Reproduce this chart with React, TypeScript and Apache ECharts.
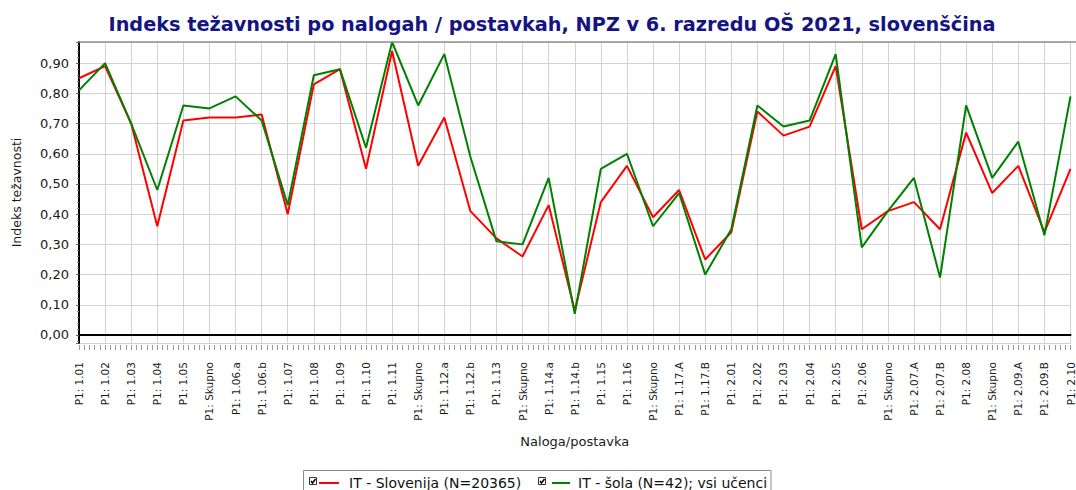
import React, { useEffect, useRef } from "react";
import * as echarts from "echarts";

const TITLE = "Indeks težavnosti po nalogah / postavkah, NPZ v 6. razredu OŠ 2021, slovenščina";
const Y_NAME = "Indeks težavnosti";
const X_NAME = "Naloga/postavka";
const SERIES_NAMES = ["IT - Slovenija (N=20365)", "IT - šola (N=42); vsi učenci"];

const categories = [
  "P1: 1.01", "P1: 1.02", "P1: 1.03", "P1: 1.04", "P1: 1.05", "P1: Skupno",
  "P1: 1.06.a", "P1: 1.06.b", "P1: 1.07", "P1: 1.08", "P1: 1.09", "P1: 1.10",
  "P1: 1.11", "P1: Skupno", "P1: 1.12.a", "P1: 1.12.b", "P1: 1.13", "P1: Skupno",
  "P1: 1.14.a", "P1: 1.14.b", "P1: 1.15", "P1: 1.16", "P1: Skupno", "P1: 1.17.A",
  "P1: 1.17.B", "P1: 2.01", "P1: 2.02", "P1: 2.03", "P1: 2.04", "P1: 2.05",
  "P1: 2.06", "P1: Skupno", "P1: 2.07.A", "P1: 2.07.B", "P1: 2.08", "P1: Skupno",
  "P1: 2.09.A", "P1: 2.09.B", "P1: 2.10",
];

const slovenija = [
  0.85, 0.89, 0.70, 0.36, 0.71, 0.72, 0.72, 0.73, 0.40, 0.83, 0.88, 0.55,
  0.94, 0.56, 0.72, 0.41, 0.32, 0.26, 0.43, 0.08, 0.44, 0.56, 0.39, 0.48,
  0.25, 0.34, 0.74, 0.66, 0.69, 0.89, 0.35, 0.41, 0.44, 0.35, 0.67, 0.47,
  0.56, 0.34, 0.55,
];

const sola = [
  0.81, 0.90, 0.70, 0.48, 0.76, 0.75, 0.79, 0.71, 0.43, 0.86, 0.88, 0.62,
  0.97, 0.76, 0.93, 0.59, 0.31, 0.30, 0.52, 0.07, 0.55, 0.60, 0.36, 0.47,
  0.20, 0.35, 0.76, 0.69, 0.71, 0.93, 0.29, 0.41, 0.52, 0.19, 0.76, 0.52,
  0.64, 0.33, 0.79,
];

const Y_MIN = -0.0265;
const Y_MAX = 0.97;

const FONT = "DejaVu Sans";
const TEXT_COLOR = "#1a1a1a";

export default function App() {
  const ref = useRef<HTMLDivElement>(null);

  useEffect(() => {
    if (!ref.current) return;
    const chart = echarts.init(ref.current, null, { renderer: "svg" });

    const checkbox = (x: number, y: number) => [
      {
        type: "rect",
        shape: { x, y, width: 7, height: 7 },
        style: { fill: "#fff", stroke: "#333", lineWidth: 1 },
      },
      {
        type: "polyline",
        shape: { points: [[x + 1.5, y + 3.5], [x + 3, y + 5.5], [x + 6, y + 1.5]] },
        style: { fill: "none", stroke: "#000", lineWidth: 1.5 },
      },
    ];

    const option: any = {
      animation: false,
      backgroundColor: "#fff",
      grid: { left: 79, right: 1, top: 42, bottom: 147, containLabel: false },
      xAxis: [
        {
          type: "category",
          data: categories,
          boundaryGap: false,
          name: X_NAME,
          nameLocation: "middle",
          nameGap: 92,
          nameTextStyle: { fontFamily: FONT, fontSize: 13, color: TEXT_COLOR },
          axisLine: { show: true, lineStyle: { color: "#000", width: 2 } },
          axisTick: { show: false },
          axisLabel: {
            interval: 0,
            rotate: 90,
            margin: 19,
            fontFamily: FONT,
            fontSize: 10.5,
            color: TEXT_COLOR,
          },
          splitLine: { show: true, lineStyle: { color: "#d2d2d2", width: 1 } },
        },
        {
          type: "value",
          position: "bottom",
          min: 0,
          max: categories.length - 1,
          interval: 1,
          offset: 2,
          axisLine: { show: false },
          axisLabel: { show: false },
          splitLine: { show: false },
          axisTick: { show: true, length: 5, lineStyle: { color: "#9a9a9a" } },
          minorTick: { show: true, splitNumber: 5, length: 5, lineStyle: { color: "#9a9a9a" } },
        },
      ],
      yAxis: {
        type: "value",
        min: Y_MIN,
        max: Y_MAX,
        splitNumber: 10,
        name: Y_NAME,
        nameLocation: "middle",
        nameGap: 56,
        nameTextStyle: { fontFamily: FONT, fontSize: 12.5, color: TEXT_COLOR },
        axisLine: { show: true, lineStyle: { color: "#000", width: 2 } },
        axisTick: { show: true, length: 3, lineStyle: { color: "#666" } },
        minorTick: { show: true, splitNumber: 5, length: 2, lineStyle: { color: "#888" } },
        axisLabel: {
          showMinLabel: false,
          showMaxLabel: false,
          margin: 10,
          fontFamily: FONT,
          fontSize: 13,
          color: TEXT_COLOR,
          formatter: (v: number) => v.toFixed(2).replace(".", ","),
        },
        splitLine: { show: true, lineStyle: { color: "#d2d2d2", width: 1 } },
      },
      series: [
        {
          name: SERIES_NAMES[0],
          type: "line",
          data: slovenija,
          xAxisIndex: 0,
          showSymbol: false,
          symbol: "none",
          lineStyle: { color: "#ff0000", width: 2 },
          itemStyle: { color: "#ff0000" },
          z: 2,
        },
        {
          name: SERIES_NAMES[1],
          type: "line",
          data: sola,
          xAxisIndex: 0,
          showSymbol: false,
          symbol: "none",
          lineStyle: { color: "#008000", width: 2 },
          itemStyle: { color: "#008000" },
          z: 3,
        },
      ],
      graphic: [
        {
          type: "text",
          x: 552,
          y: 24.5,
          style: {
            text: TITLE,
            textAlign: "center",
            textVerticalAlign: "middle",
            fontFamily: FONT,
            fontWeight: "bold",
            fontSize: 19.3,
            fill: "#141482",
          },
        },
        {
          type: "line",
          shape: { x1: 79, y1: 42, x2: 1076, y2: 42 },
          style: { stroke: "#8f8f8f", lineWidth: 1.5 },
          z: 10,
        },
        {
          type: "rect",
          shape: { x: 303.5, y: 470.5, width: 467.5, height: 40 },
          style: { fill: "#fff", stroke: "#8a8a8a", lineWidth: 1 },
        },
        ...checkbox(309.5, 477.5),
        {
          type: "line",
          shape: { x1: 319, y1: 483, x2: 339, y2: 483 },
          style: { stroke: "#ff0000", lineWidth: 2 },
        },
        {
          type: "text",
          x: 349,
          y: 483,
          style: {
            text: SERIES_NAMES[0],
            textVerticalAlign: "middle",
            fontFamily: FONT,
            fontSize: 14,
            fill: "#111",
          },
        },
        ...checkbox(538.5, 477.5),
        {
          type: "line",
          shape: { x1: 552, y1: 483, x2: 570, y2: 483 },
          style: { stroke: "#008000", lineWidth: 2 },
        },
        {
          type: "text",
          x: 578,
          y: 483,
          style: {
            text: SERIES_NAMES[1],
            textVerticalAlign: "middle",
            fontFamily: FONT,
            fontSize: 14,
            fill: "#111",
          },
        },
      ],
    };

    chart.setOption(option);
    return () => chart.dispose();
  }, []);

  return (
    <div
      ref={ref}
      style={{ position: "fixed", left: 0, top: 0, width: 1076, height: 490, background: "#fff" }}
    />
  );
}
